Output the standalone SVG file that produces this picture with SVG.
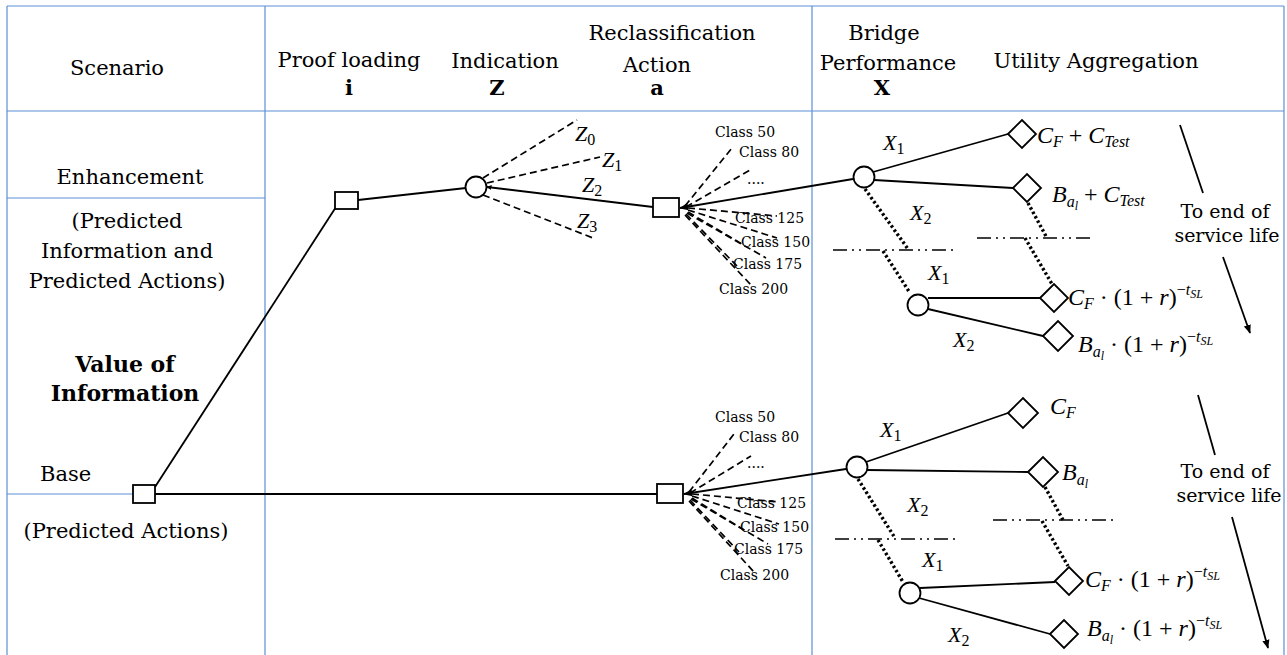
<svg xmlns="http://www.w3.org/2000/svg" width="1287" height="655" viewBox="0 0 1287 655">
<style>
.grid{stroke:#5b8fd6;stroke-width:1.2;fill:none}
.ln{stroke:#000;stroke-width:1.8;fill:none}
.dash{stroke:#000;stroke-width:1.7;fill:none;stroke-dasharray:7 4}
.dot{stroke:#000;stroke-width:3.4;fill:none;stroke-dasharray:2.5 2.5}
.dd{stroke:#000;stroke-width:1.7;fill:none;stroke-dasharray:14 5 2 5 2 5}
.node{fill:#fff;stroke:#000;stroke-width:1.8}
.t{font-family:"DejaVu Serif",Georgia,serif;font-size:21px;fill:#000}
.b{font-family:"DejaVu Serif",Georgia,serif;font-size:21px;font-weight:bold;fill:#000}
.c{font-family:"DejaVu Serif",Georgia,serif;font-size:14px;fill:#000}
.m{font-family:"Liberation Serif","Times New Roman",serif;font-size:24px;font-style:italic;fill:#000}
.mv{font-family:"Liberation Serif","Times New Roman",serif;font-size:22px;font-style:italic;fill:#000}
.up{font-style:normal}
.sb{font-size:16px}
.ss{font-size:12px}
.mid{text-anchor:middle}
</style>
<defs>
<marker id="ah" viewBox="0 0 10 10" refX="9" refY="5" markerWidth="5" markerHeight="5" orient="auto" markerUnits="userSpaceOnUse">
<path d="M0,0 L10,5 L0,10 z" fill="#000"/>
</marker>
<marker id="ah2" viewBox="0 0 10 10" refX="9" refY="5" markerWidth="9" markerHeight="9" orient="auto" markerUnits="userSpaceOnUse">
<path d="M0,1 L10,5 L0,9 z" fill="#000"/>
</marker>
</defs>

<g id="grid">
<line class="grid" x1="7" y1="6" x2="1284" y2="6"/>
<line class="grid" x1="7" y1="111" x2="1284" y2="111"/>
<line class="grid" x1="7" y1="6" x2="7" y2="655"/>
<line class="grid" x1="265" y1="6" x2="265" y2="655"/>
<line class="grid" x1="812" y1="6" x2="812" y2="655"/>
<line class="grid" x1="1284" y1="6" x2="1284" y2="655"/>
<line class="grid" x1="7" y1="198" x2="265" y2="198"/>
<line class="grid" x1="7" y1="494" x2="133" y2="494"/>
</g>

<g id="headers">
<text class="t mid" x="117" y="75">Scenario</text>
<text class="t mid" x="349" y="67">Proof loading</text>
<text class="b mid" x="349" y="95">i</text>
<text class="t mid" x="505" y="68">Indication</text>
<text class="b mid" x="497" y="95">Z</text>
<text class="t mid" x="672" y="40">Reclassification</text>
<text class="t mid" x="657" y="72">Action</text>
<text class="b mid" x="657" y="95">a</text>
<text class="t mid" x="884" y="40">Bridge</text>
<text class="t mid" x="888" y="70">Performance</text>
<text class="b mid" x="882" y="95">X</text>
<text class="t mid" x="1096" y="68">Utility Aggregation</text>
</g>

<g id="scenarios">
<text class="t mid" x="130" y="184">Enhancement</text>
<text class="t mid" x="127" y="228">(Predicted</text>
<text class="t mid" x="127" y="258">Information and</text>
<text class="t mid" x="127" y="288">Predicted Actions)</text>
<text class="b mid" x="125" y="372" style="font-size:22px">Value of</text>
<text class="b mid" x="125" y="401" style="font-size:22px">Information</text>
<text class="t" x="40" y="481">Base</text>
<text class="t mid" x="126" y="538">(Predicted Actions)</text>
</g>

<g id="connectors">
<line class="ln" x1="155" y1="487" x2="336" y2="207"/>
<line class="ln" x1="358" y1="200" x2="466" y2="188"/>
<line class="ln" x1="155" y1="494" x2="657" y2="494"/>
<line class="dash" x1="483" y1="178" x2="577" y2="120"/>
<line class="dash" x1="487" y1="183" x2="600" y2="157"/>
<line class="dash" x1="483" y1="195" x2="593" y2="238"/>
<line class="ln" x1="653" y1="207" x2="487" y2="187" marker-end="url(#ah)"/>
<line class="ln" x1="853" y1="179" x2="680" y2="208" marker-end="url(#ah2)"/>
<line class="ln" x1="846" y1="469" x2="684" y2="494" marker-end="url(#ah2)"/>
<g id="fan-upper">
<line class="dash" x1="685" y1="206" x2="732" y2="148"/>
<line class="dash" x1="686" y1="207" x2="750" y2="170"/>
<line class="dash" x1="688" y1="208" x2="777" y2="216"/>
<line class="dash" x1="688" y1="210" x2="777" y2="238"/>
<line class="dash" x1="688" y1="212" x2="742" y2="244"/>
<line class="dash" x1="687" y1="213" x2="766" y2="258"/>
<line class="dash" x1="686" y1="214" x2="737" y2="266"/>
<line class="dash" x1="685" y1="215" x2="752" y2="286"/>
</g>
<g id="fan-lower">
<line class="dash" x1="689" y1="492" x2="734" y2="434"/>
<line class="dash" x1="690" y1="493" x2="751" y2="456"/>
<line class="dash" x1="692" y1="494" x2="779" y2="502"/>
<line class="dash" x1="692" y1="496" x2="779" y2="524"/>
<line class="dash" x1="692" y1="498" x2="744" y2="530"/>
<line class="dash" x1="691" y1="499" x2="768" y2="544"/>
<line class="dash" x1="690" y1="500" x2="739" y2="552"/>
<line class="dash" x1="689" y1="501" x2="754" y2="572"/>
</g>
<line class="ln" x1="873" y1="172" x2="1008" y2="134"/>
<line class="ln" x1="874" y1="180" x2="1013" y2="188"/>
<line class="ln" x1="928" y1="298" x2="1040" y2="298"/>
<line class="ln" x1="928" y1="309" x2="1043" y2="336"/>
<line class="ln" x1="866" y1="462" x2="1008" y2="413"/>
<line class="ln" x1="867" y1="470" x2="1028" y2="472"/>
<line class="ln" x1="920" y1="588" x2="1055" y2="582"/>
<line class="ln" x1="919" y1="598" x2="1050" y2="634"/>
<line class="dot" x1="865" y1="189" x2="908" y2="249"/>
<line class="dot" x1="883" y1="251" x2="910" y2="293"/>
<line class="dot" x1="1028" y1="203" x2="1047" y2="238"/>
<line class="dot" x1="1025" y1="238" x2="1052" y2="284"/>
<line class="dot" x1="858" y1="479" x2="895" y2="538"/>
<line class="dot" x1="878" y1="540" x2="903" y2="582"/>
<line class="dot" x1="1045" y1="487" x2="1063" y2="520"/>
<line class="dot" x1="1042" y1="521" x2="1068" y2="566"/>
<line class="dd" x1="833" y1="250" x2="955" y2="250"/>
<line class="dd" x1="977" y1="238" x2="1095" y2="238"/>
<line class="dd" x1="835" y1="539" x2="955" y2="539"/>
<line class="dd" x1="993" y1="520" x2="1113" y2="520"/>
<line class="ln" x1="1180" y1="125" x2="1203" y2="193"/>
<line class="ln" x1="1223" y1="257" x2="1250" y2="333" marker-end="url(#ah2)"/>
<line class="ln" x1="1198" y1="395" x2="1215" y2="455"/>
<line class="ln" x1="1232" y1="517" x2="1268" y2="648" marker-end="url(#ah2)"/>
</g>

<g id="n-base"><rect class="node" x="133" y="485" width="22" height="18"/></g>
<g id="n-proof"><rect class="node" x="335" y="192" width="23" height="17"/></g>
<g id="n-ind"><circle class="node" cx="476" cy="187" r="10.5"/></g>
<g id="n-act1"><rect class="node" x="653" y="198" width="26" height="19"/></g>
<g id="n-act2"><rect class="node" x="657" y="484" width="26" height="19"/></g>
<g id="n-cA"><circle class="node" cx="864" cy="177" r="10.5"/></g>
<g id="n-cB"><circle class="node" cx="918" cy="305" r="10.5"/></g>
<g id="n-cC"><circle class="node" cx="857" cy="467" r="10.5"/></g>
<g id="n-cD"><circle class="node" cx="910" cy="593" r="10.5"/></g>
<g id="n-d1"><polygon class="node" points="1008,134 1022,120 1036,134 1022,148"/></g>
<g id="n-d2"><polygon class="node" points="1013,188 1027,174 1041,188 1027,202"/></g>
<g id="n-d3"><polygon class="node" points="1040,298 1054,284 1068,298 1054,312"/></g>
<g id="n-d4"><polygon class="node" points="1043,336 1058,321 1073,336 1058,351"/></g>
<g id="n-d5"><polygon class="node" points="1008,413 1023,398 1038,413 1023,428"/></g>
<g id="n-d6"><polygon class="node" points="1028,472 1043,457 1058,472 1043,487"/></g>
<g id="n-d7"><polygon class="node" points="1055,581 1069,567 1083,581 1069,595"/></g>
<g id="n-d8"><polygon class="node" points="1050,634 1064,620 1078,634 1064,648"/></g>

<g id="labels-z">
<text class="mv" x="575" y="141">Z<tspan class="up sb" dy="4">0</tspan></text>
<text class="mv" x="602" y="167">Z<tspan class="up sb" dy="4">1</tspan></text>
<text class="mv" x="582" y="192">Z<tspan class="up sb" dy="4">2</tspan></text>
<text class="mv" x="577" y="228">Z<tspan class="up sb" dy="4">3</tspan></text>
</g>

<g id="labels-class">
<text class="c" x="715" y="137">Class 50</text>
<text class="c" x="739" y="157">Class 80</text>
<text class="c" x="747" y="184">....</text>
<text class="c" x="735" y="223">Class 125</text>
<text class="c" x="741" y="247">Class 150</text>
<text class="c" x="733" y="269">Class 175</text>
<text class="c" x="719" y="294">Class 200</text>
<text class="c" x="715" y="422">Class 50</text>
<text class="c" x="739" y="442">Class 80</text>
<text class="c" x="747" y="468">....</text>
<text class="c" x="737" y="508">Class 125</text>
<text class="c" x="740" y="532">Class 150</text>
<text class="c" x="734" y="554">Class 175</text>
<text class="c" x="720" y="580">Class 200</text>
</g>

<g id="labels-x">
<text class="mv" x="883" y="150">X<tspan class="up sb" dy="4">1</tspan></text>
<text class="mv" x="910" y="220">X<tspan class="up sb" dy="4">2</tspan></text>
<text class="mv" x="928" y="280">X<tspan class="up sb" dy="4">1</tspan></text>
<text class="mv" x="953" y="347">X<tspan class="up sb" dy="4">2</tspan></text>
<text class="mv" x="880" y="437">X<tspan class="up sb" dy="4">1</tspan></text>
<text class="mv" x="907" y="512">X<tspan class="up sb" dy="4">2</tspan></text>
<text class="mv" x="922" y="567">X<tspan class="up sb" dy="4">1</tspan></text>
<text class="mv" x="948" y="642">X<tspan class="up sb" dy="4">2</tspan></text>
</g>

<g id="labels-utility">
<text class="m" x="1037" y="143">C<tspan class="sb" dy="4">F</tspan><tspan class="up" dy="-4"> + </tspan>C<tspan class="sb" dy="4">Test</tspan></text>
<text class="m" x="1052" y="202">B<tspan class="sb" dy="5">a</tspan><tspan class="ss" dy="3">l</tspan><tspan class="up" dy="-8"> + </tspan>C<tspan class="sb" dy="4">Test</tspan></text>
<text class="m" x="1068" y="305">C<tspan class="sb" dy="4">F</tspan><tspan class="up" dy="-4"> · (1 + </tspan>r<tspan class="up">)</tspan><tspan class="up sb" dy="-10">−</tspan><tspan class="sb">t</tspan><tspan class="ss" dy="3">SL</tspan></text>
<text class="m" x="1078" y="352">B<tspan class="sb" dy="5">a</tspan><tspan class="ss" dy="3">l</tspan><tspan class="up" dy="-8"> · (1 + </tspan>r<tspan class="up">)</tspan><tspan class="up sb" dy="-10">−</tspan><tspan class="sb">t</tspan><tspan class="ss" dy="3">SL</tspan></text>
<text class="m" x="1050" y="414">C<tspan class="sb" dy="4">F</tspan></text>
<text class="m" x="1062" y="480">B<tspan class="sb" dy="5">a</tspan><tspan class="ss" dy="3">l</tspan></text>
<text class="m" x="1085" y="587">C<tspan class="sb" dy="4">F</tspan><tspan class="up" dy="-4"> · (1 + </tspan>r<tspan class="up">)</tspan><tspan class="up sb" dy="-10">−</tspan><tspan class="sb">t</tspan><tspan class="ss" dy="3">SL</tspan></text>
<text class="m" x="1087" y="636">B<tspan class="sb" dy="5">a</tspan><tspan class="ss" dy="3">l</tspan><tspan class="up" dy="-8"> · (1 + </tspan>r<tspan class="up">)</tspan><tspan class="up sb" dy="-10">−</tspan><tspan class="sb">t</tspan><tspan class="ss" dy="3">SL</tspan></text>
</g>

<g id="labels-life">
<text class="t mid" x="1225" y="218" style="font-size:19px">To end of</text>
<text class="t mid" x="1227" y="242" style="font-size:19px">service life</text>
<text class="t mid" x="1225" y="478" style="font-size:19px">To end of</text>
<text class="t mid" x="1229" y="502" style="font-size:19px">service life</text>
</g>
</svg>
